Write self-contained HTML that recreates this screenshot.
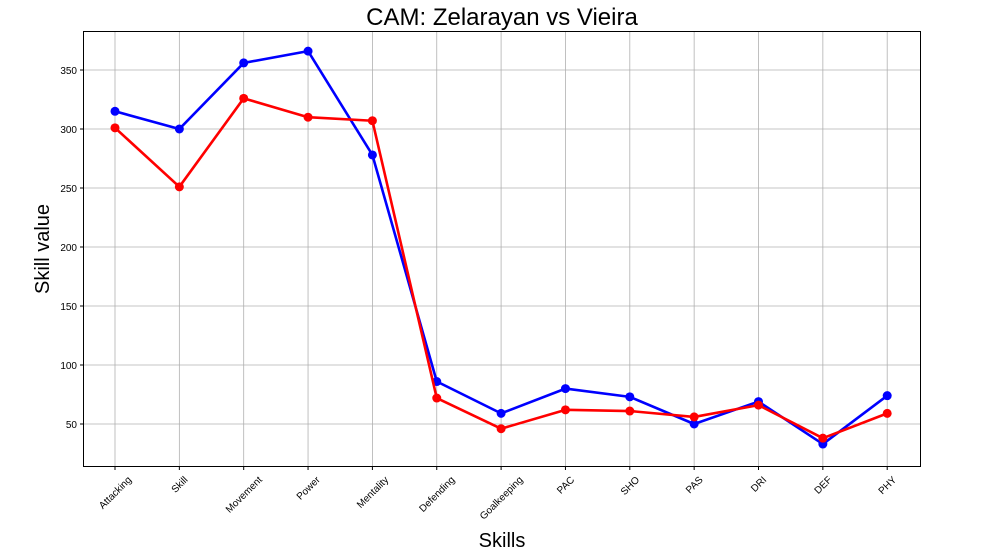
<!DOCTYPE html>
<html><head><meta charset="utf-8"><style>
body{margin:0;background:#fff;font-family:"Liberation Sans","DejaVu Sans",sans-serif;}
</style></head><body>
<svg id="chart" width="983" height="555" xmlns="http://www.w3.org/2000/svg">
<rect width="983" height="555" fill="#fff"/>
<text x="502" y="25" text-anchor="middle" font-size="24" fill="#000">CAM: Zelarayan vs Vieira</text>
<g id="grid"></g>
<g id="ticks"></g>
<rect x="83.5" y="31.5" width="837" height="435" fill="none" stroke="#000" stroke-width="1"/>
<g id="series"></g>
<text transform="translate(49,249) rotate(-90)" text-anchor="middle" font-size="20" fill="#000">Skill value</text>
<text x="502" y="547" text-anchor="middle" font-size="20" fill="#000">Skills</text>
</svg>
<script>
const categories=["Attacking","Skill","Movement","Power","Mentality","Defending","Goalkeeping","PAC","SHO","PAS","DRI","DEF","PHY"];
const zelarayan=[315,300,356,366,278,86,59,80,73,50,69,33,74];
const vieira=[301,251,326,310,307,72,46,62,61,56,66,38,59];
const yTicks=[50,100,150,200,250,300,350];
const NS="http://www.w3.org/2000/svg";
const x=i=>115+i*64.35;
const y=v=>424-(v-50)*1.18;
function mk(tag,attrs,parent){const e=document.createElementNS(NS,tag);for(const k in attrs)e.setAttribute(k,attrs[k]);parent.appendChild(e);return e;}
const grid=document.getElementById('grid'),ticks=document.getElementById('ticks'),series=document.getElementById('series');
yTicks.forEach(t=>{
 const l=mk('line',{x1:84,x2:920,y1:y(t),y2:y(t),stroke:'#b0b0b0','stroke-width':0.8},grid);
 
 
 mk('line',{x1:80,x2:83,y1:y(t),y2:y(t),stroke:'#000'},ticks);
 const tx=mk('text',{x:77,y:y(t)+4,'text-anchor':'end','font-size':10,fill:'#000'},ticks);
 tx.textContent=t;
 
 
});
categories.forEach((c,i)=>{
 const l=mk('line',{x1:x(i),x2:x(i),y1:32,y2:466,stroke:'#b0b0b0','stroke-width':0.8},grid);
 
 
 mk('line',{x1:x(i),x2:x(i),y1:467,y2:470,stroke:'#000'},ticks);
 const tx=mk('text',{x:0,y:3.5,'text-anchor':'middle','font-size':10,fill:'#000'},ticks);
 tx.textContent=c;
 
 
 const w=tx.getComputedTextLength();
 const cy=474+(w+11)*0.707/2;
 tx.setAttribute('transform',`translate(${x(i)},${cy}) rotate(-45)`);
});
function draw(vals,color,name){
 const g=mk('g',{},series);
 
 
 const pl=mk('polyline',{points:vals.map((v,i)=>x(i)+','+y(v)).join(' '),fill:'none',stroke:color,'stroke-width':2.6,'stroke-linejoin':'round'},g);
 
 
 vals.forEach((v,i)=>{
  const c=mk('circle',{cx:x(i),cy:y(v),r:4.5,fill:color},g);
  
  
 });
}
draw(zelarayan,'#0000ff','zelarayan-series');
draw(vieira,'#ff0000','vieira-series');
</script>
</body></html>
